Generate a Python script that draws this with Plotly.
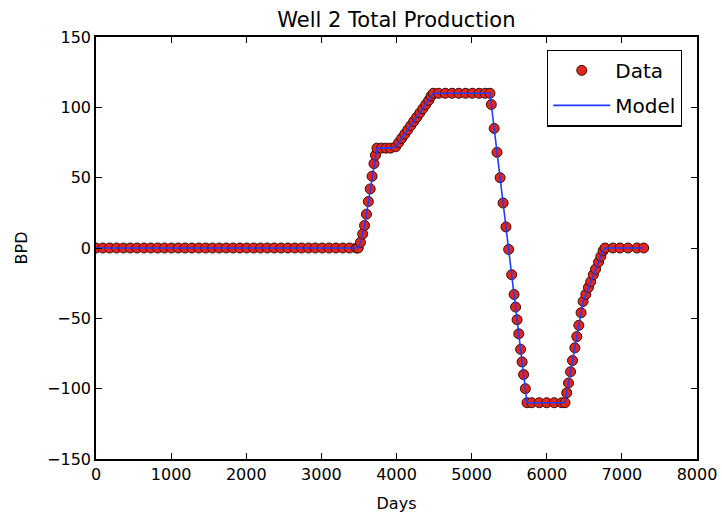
import plotly.graph_objects as go

# Simulator report times (days) and rates (BPD)
days = [
    0, 91, 182, 274, 365, 456, 547, 639, 730, 821, 912, 1004, 1095, 1186, 1277,
    1369, 1460, 1551, 1642, 1734, 1825, 1916, 2007, 2099, 2190, 2281, 2372, 2464,
    2555, 2646, 2737, 2829, 2920, 3011, 3102, 3194, 3285, 3376, 3467, 3490,
    3520, 3550, 3575, 3600, 3625, 3650, 3675, 3700, 3720, 3740,
    3800, 3860, 3920, 3990,
    4030, 4070, 4110, 4150, 4190, 4230, 4270, 4310, 4350, 4390, 4430, 4460, 4490,
    4560, 4650, 4740, 4830, 4920, 5010, 5100, 5180, 5244,
    5262, 5300, 5338, 5379, 5419, 5457, 5493, 5533, 5565, 5585, 5605, 5628,
    5652, 5672, 5692, 5715, 5737,
    5800, 5900, 6000, 6100, 6200, 6243,
    6266, 6290, 6317, 6343, 6374, 6400, 6427, 6457, 6484,
    6520, 6555, 6585, 6620, 6650, 6690, 6720, 6750, 6776,
    6882, 6975, 7082, 7201, 7290,
]
rate = [
    0, 0, 0, 0, 0, 0, 0, 0, 0, 0, 0, 0, 0, 0, 0,
    0, 0, 0, 0, 0, 0, 0, 0, 0, 0, 0, 0, 0,
    0, 0, 0, 0, 0, 0, 0, 0, 0, 0, 0, 0,
    4, 10, 16, 24, 33, 42, 51, 60, 66, 71,
    71, 71, 71, 72,
    75, 78, 81, 84, 87, 90, 93, 96, 99, 102, 105, 108, 110,
    110, 110, 110, 110, 110, 110, 110, 110, 110,
    102, 85, 68, 50, 32, 15, -1, -19, -33, -42, -51, -61,
    -72, -81, -90, -100, -110,
    -110, -110, -110, -110, -110, -110,
    -103, -96, -88, -80, -71, -63, -55, -46, -38,
    -33, -28, -24, -19, -15, -10, -6, -2, 0,
    0, 0, 0, 0, 0,
]
model = rate

title = "Well 2 Total Production"
x_title = "Days"
y_title = "BPD"

font = "DejaVu Sans"

fig = go.Figure()
fig.add_trace(go.Scatter(
    x=days, y=rate, mode="markers", name="Data", legendgroup="data",
    marker=dict(symbol="circle", size=10, color="#e3261c",
                line=dict(color="#3a0c0a", width=1)),
))
fig.add_trace(go.Scatter(
    x=days, y=model, mode="lines", name="Model", legendgroup="model",
    line=dict(color="#1f3cff", width=1.6),
))

axis_common = dict(
    showgrid=False, zeroline=False, showline=True, linecolor="black",
    linewidth=1.5, mirror="allticks", ticks="inside", ticklen=6,
    tickwidth=1, tickcolor="black", automargin=False,
    tickfont=dict(family=font, size=16, color="black"),
)

fig.update_layout(
    width=722, height=516,
    paper_bgcolor="white", plot_bgcolor="white",
    margin=dict(l=96, r=25, t=37, b=57),
    title=dict(text=title, x=0.549, xanchor="center", y=0.961, yanchor="middle",
               font=dict(family=font, size=21, color="black")),
    xaxis=dict(range=[0, 8000], dtick=1000, tick0=0,
               title=dict(text=x_title, font=dict(family=font, size=16, color="black")),
               **axis_common),
    yaxis=dict(range=[-150, 150], dtick=50, tick0=0,
               title=dict(text=y_title, font=dict(family=font, size=16, color="black")),
               **axis_common),
    legend=dict(x=0.7505, y=0.97, xanchor="left", yanchor="top",
                bgcolor="white", bordercolor="black", borderwidth=1.2,
                font=dict(family=font, size=20, color="black"),
                itemwidth=57, tracegroupgap=6,
                entrywidth=76, entrywidthmode="pixels"),
    showlegend=True,
)

fig.write_html("out.html", config={"displayModeBar": False},
               post_script="document.body.style.margin='0';")
